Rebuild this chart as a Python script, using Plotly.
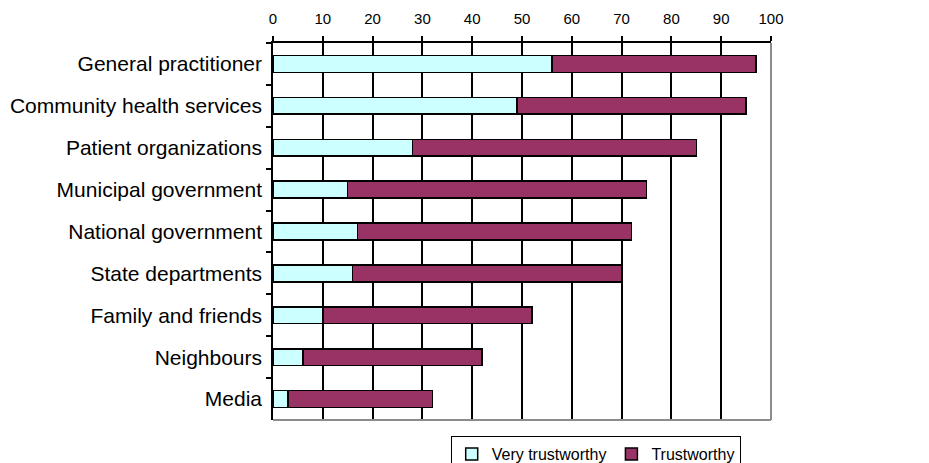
import plotly.graph_objects as go

categories = [
    "General practitioner",
    "Community health services",
    "Patient organizations",
    "Municipal government",
    "National government",
    "State departments",
    "Family and friends",
    "Neighbours",
    "Media",
]
very_trustworthy = [56, 49, 28, 15, 17, 16, 10, 6, 3]
trustworthy = [41, 46, 57, 60, 55, 54, 42, 36, 29]
x_ticks = [0, 10, 20, 30, 40, 50, 60, 70, 80, 90, 100]

FONT = "Liberation Sans, Arial, sans-serif"

fig = go.Figure()
fig.add_trace(go.Bar(
    y=categories, x=very_trustworthy, orientation="h", name="Very trustworthy",
    marker=dict(color="#CCFFFF", line=dict(color="black", width=1.5)),
))
fig.add_trace(go.Bar(
    y=categories, x=trustworthy, orientation="h", name="Trustworthy",
    marker=dict(color="#993366", line=dict(color="black", width=1.5)),
))

fig.update_layout(
    width=929, height=463,
    margin=dict(l=273, r=158, t=43, b=43, autoexpand=False),
    barmode="stack", bargap=0.6,
    plot_bgcolor="white", paper_bgcolor="white",
    font=dict(family=FONT, color="black"),
    showlegend=True,
    legend=dict(
        orientation="h", x=0.648, xanchor="center", y=-0.043, yanchor="top",
        bordercolor="black", borderwidth=1, font=dict(size=16, family=FONT),
        itemwidth=30, traceorder="normal", tracegroupgap=0,
    ),
    xaxis=dict(
        side="top", range=[0, 100], tickvals=x_ticks,
        ticks="outside", ticklen=5, tickcolor="black", tickwidth=1.5,
        showline=True, linecolor="black", linewidth=1.5,
        showgrid=True, gridcolor="black", gridwidth=1.5,
        zeroline=False, tickfont=dict(size=15, family=FONT),
        ticklabelstandoff=6,
    ),
    yaxis=dict(
        autorange="reversed", ticks="outside", tickson="boundaries",
        ticklen=5, tickcolor="black", tickwidth=1.5,
        showline=True, linecolor="black", linewidth=1.5,
        showgrid=False, tickfont=dict(size=21, family=FONT),
        ticklabelstandoff=5,
    ),
    shapes=[
        dict(type="line", xref="paper", yref="paper", x0=1, x1=1, y0=0, y1=1,
             line=dict(color="#8c8c8c", width=2)),
        dict(type="line", xref="paper", yref="paper", x0=0, x1=1, y0=0, y1=0,
             line=dict(color="#8c8c8c", width=2)),
    ],
)

fig.write_html("out.html")
